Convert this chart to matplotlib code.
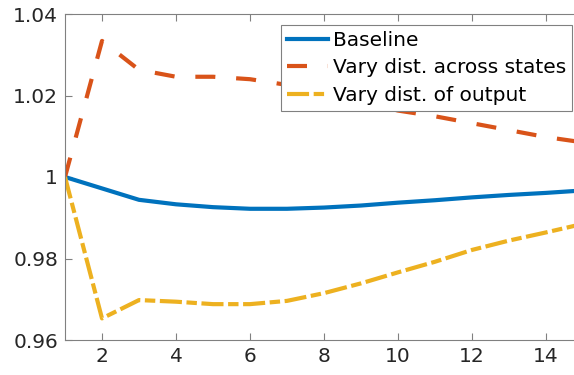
import numpy as np
import matplotlib
matplotlib.use("Agg")
import matplotlib.pyplot as plt

# periods
t = np.arange(1, 16)

baseline = [1.0, 0.9972, 0.9944, 0.9933, 0.9926, 0.9922, 0.9922, 0.9925,
            0.9930, 0.9937, 0.9943, 0.9950, 0.9956, 0.9961, 0.9967]
across_states = [1.0, 1.0334, 1.0263, 1.0246, 1.0246, 1.0240, 1.0226, 1.0207,
                 1.0186, 1.0163, 1.0149, 1.0132, 1.0115, 1.0098, 1.0085]
of_output = [1.0, 0.9653, 0.9698, 0.9694, 0.9688, 0.9688, 0.9696, 0.9715,
             0.9739, 0.9766, 0.9792, 0.9821, 0.9844, 0.9864, 0.9885]

labels = ["Baseline", "Vary dist. across states", "Vary dist. of output"]
colors = ["#0072BD", "#D95319", "#EDB120"]

W, H = 574, 375
fig = plt.figure(figsize=(W / 100, H / 100), dpi=100)
# axes runs past the right edge of the picture, like the reference crop
ax = fig.add_axes([65 / W, 1 - 340 / H, (583 - 65) / W, 326 / H])

lw = 3
ax.plot(t, baseline, color=colors[0], lw=lw, label=labels[0])
ax.plot(t, across_states, color=colors[1], lw=lw, label=labels[1],
        dashes=(4.8, 5.0), dash_capstyle="butt")
ax.plot(t, of_output, color=colors[2], lw=lw, label=labels[2],
        dashes=(5.3, 1.1, 2.5, 1.1), dash_capstyle="butt")

ax.set_xlim(1, 15)
ax.set_ylim(0.96, 1.04)
ax.set_xticks([2, 4, 6, 8, 10, 12, 14])
ax.set_yticks([0.96, 0.98, 1.0, 1.02, 1.04])
ax.set_yticklabels(["0.96", "0.98", "1", "1.02", "1.04"])

for s in ax.spines.values():
    s.set_color("#808080")
    s.set_linewidth(0.8)
ax.tick_params(direction="in", length=5, width=0.8, color="#808080",
               labelsize=14.5, labelcolor="#262626", top=True, right=True, pad=5)

leg = ax.legend(loc="upper right", bbox_to_anchor=(572 / W, 1 - 25 / H),
                bbox_transform=fig.transFigure, borderaxespad=0,
                fontsize=14.5, handlelength=2.0, handletextpad=0.25,
                labelspacing=0.42, borderpad=0.3, fancybox=False, framealpha=1)
leg.get_frame().set_edgecolor("#808080")
leg.get_frame().set_linewidth(0.8)

fig.savefig("out.png", dpi=100)
